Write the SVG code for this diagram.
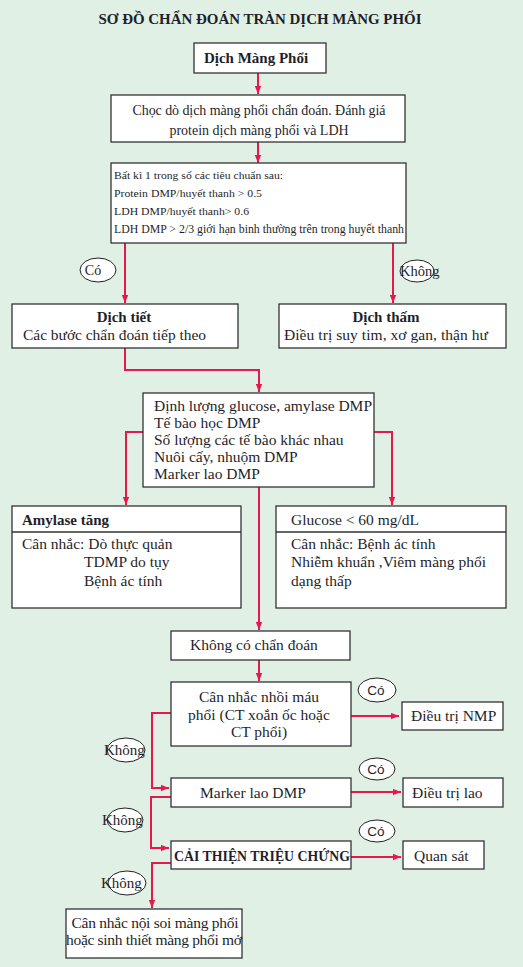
<svg xmlns="http://www.w3.org/2000/svg" width="523" height="967" viewBox="0 0 523 967">
<defs>
<style>
.bg{fill:#e0f0e5}
.box{fill:#fff;stroke:#333;stroke-width:1.3}
.ov{fill:#fff;stroke:#222;stroke-width:1}
.t{font-family:"Liberation Serif","Times New Roman",serif;fill:#1f1f2a}
.b{font-weight:bold}
.s{font-family:"Liberation Sans",Arial,sans-serif;fill:#1f1f2a}
.c{text-anchor:middle}
.ln{fill:none;stroke:#e5194e;stroke-width:2;marker-end:url(#ah)}
</style>
<marker id="ah" viewBox="0 0 10 8" refX="10" refY="4" markerWidth="8" markerHeight="7" markerUnits="userSpaceOnUse" orient="auto">
<path d="M0,0 L10,4 L0,8 z" fill="#e5194e"/>
</marker>
</defs>
<rect class="bg" x="0" y="0" width="523" height="967"/>
<text class="t b c" x="260" y="24" font-size="15" textLength="323" lengthAdjust="spacingAndGlyphs">SƠ ĐỒ CHẨN ĐOÁN TRÀN DỊCH MÀNG PHỔI</text>

<g id="connectors">
<path class="ln" d="M258,73 V94"/>
<path class="ln" d="M258,142 V163"/>
<path class="ln" d="M125,243 V303"/>
<path class="ln" d="M393,243 V303"/>
<path class="ln" d="M125,348 V370 H259 V392"/>
<path class="ln" d="M143,432 H126 V505"/>
<path class="ln" d="M374,432 H392 V505"/>
<path class="ln" d="M259,487 V630"/>
<path class="ln" d="M259,660 V681"/>
<path class="ln" d="M351,716 H399"/>
<path class="ln" d="M171,713 H152 V788 H169"/>
<path class="ln" d="M351,792 H401"/>
<path class="ln" d="M171,797 H151 V848 H169"/>
<path class="ln" d="M351,857 H401"/>
<path class="ln" d="M171,863 H152 V908"/>
</g>

<g id="n1">
<rect class="box" x="194" y="43" width="132" height="30"/>
<text class="t b c" x="256" y="63" font-size="15">Dịch Màng Phổi</text>
</g>
<g id="n2">
<rect class="box" x="111" y="95" width="294" height="47"/>
<text class="t c" x="259" y="115" font-size="14" textLength="253">Chọc dò dịch màng phổi chẩn đoán. Đánh giá</text>
<text class="t c" x="259" y="135" font-size="14">protein dịch màng phổi và LDH</text>
</g>
<g id="n3">
<rect class="box" x="111" y="163" width="295" height="80"/>
<text class="t" x="114" y="179" font-size="11" textLength="169" lengthAdjust="spacingAndGlyphs">Bất kì 1 trong số các tiêu chuẩn sau:</text>
<text class="t" x="114" y="197" font-size="11" textLength="148" lengthAdjust="spacingAndGlyphs">Protein DMP/huyết thanh &gt; 0.5</text>
<text class="t" x="114" y="215" font-size="11" textLength="135" lengthAdjust="spacingAndGlyphs">LDH DMP/huyết thanh&gt; 0.6</text>
<text class="t" x="114" y="233" font-size="12" textLength="290" lengthAdjust="spacingAndGlyphs">LDH DMP &gt; 2/3 giới hạn binh thường trên trong huyết thanh</text>
</g>
<g id="lbl-co1">
<ellipse class="ov" cx="98" cy="270" rx="18" ry="12"/>
<text class="t c" x="93" y="275" font-size="14">Có</text>
</g>
<g id="lbl-khong1">
<ellipse class="ov" cx="417" cy="271" rx="17" ry="11"/>
<text class="t" x="400" y="276" font-size="14.5">Không</text>
</g>
<g id="n4">
<rect class="box" x="12" y="304" width="226" height="44"/>
<text class="t b c" x="124" y="322" font-size="15">Dịch tiết</text>
<text class="t" x="23" y="340" font-size="15.5" textLength="183">Các bước chẩn đoán tiếp theo</text>
</g>
<g id="n5">
<rect class="box" x="279" y="304" width="227" height="44"/>
<text class="t b c" x="386" y="322" font-size="15">Dịch thấm</text>
<text class="t" x="284" y="340" font-size="15.5" textLength="204">Điều trị suy tim, xơ gan, thận hư</text>
</g>
<g id="n6">
<rect class="box" x="143" y="393" width="231" height="94"/>
<text class="t" x="154" y="411" font-size="15.5" textLength="218">Định lượng glucose, amylase DMP</text>
<text class="t" x="154" y="428" font-size="15.5">Tế bào học DMP</text>
<text class="t" x="154" y="445" font-size="15.5">Số lượng các tế bào khác nhau</text>
<text class="t" x="154" y="462" font-size="15.5">Nuôi cấy, nhuộm DMP</text>
<text class="t" x="154" y="479" font-size="15.5">Marker lao DMP</text>
</g>
<g id="n7">
<rect class="box" x="12" y="506" width="229" height="102"/>
<line x1="12" y1="532" x2="241" y2="532" stroke="#333" stroke-width="1.3"/>
<text class="t b" x="22" y="525" font-size="15">Amylase tăng</text>
<text class="t" x="22" y="549" font-size="15.5">Cân nhắc: Dò thực quản</text>
<text class="t" x="84" y="567" font-size="15.5">TDMP do tụy</text>
<text class="t" x="84" y="586" font-size="15.5">Bệnh ác tính</text>
</g>
<g id="n8">
<rect class="box" x="276" y="506" width="230" height="102"/>
<line x1="276" y1="532" x2="506" y2="532" stroke="#333" stroke-width="1.3"/>
<text class="t" x="291" y="525" font-size="15.5">Glucose &lt; 60 mg/dL</text>
<text class="t" x="291" y="549" font-size="15.5">Cân nhắc: Bệnh ác tính</text>
<text class="t" x="291" y="567" font-size="15.5">Nhiễm khuẩn ,Viêm màng phổi</text>
<text class="t" x="291" y="586" font-size="15.5">dạng thấp</text>
</g>
<g id="n9">
<rect class="box" x="171" y="631" width="179" height="29"/>
<text class="t" x="190" y="650" font-size="15.5">Không có chẩn đoán</text>
</g>
<g id="n10">
<rect class="box" x="171" y="682" width="180" height="64"/>
<text class="t c" x="259" y="702" font-size="15.5">Cân nhắc nhồi máu</text>
<text class="t c" x="259" y="720" font-size="15.5">phổi (CT xoắn ốc hoặc</text>
<text class="t c" x="259" y="737" font-size="15.5">CT phổi)</text>
</g>
<g id="lbl-co2">
<ellipse class="ov" cx="377" cy="690" rx="19" ry="12"/>
<text class="s c" x="376" y="695" font-size="13.5">Có</text>
</g>
<g id="n11">
<rect class="box" x="402" y="702" width="101" height="28"/>
<text class="t" x="411" y="721" font-size="15.5">Điều trị NMP</text>
</g>
<g id="lbl-khong2">
<ellipse class="ov" cx="126" cy="750" rx="19" ry="12"/>
<text class="t" x="104" y="755" font-size="15">Không</text>
</g>
<g id="n12">
<rect class="box" x="171" y="778" width="180" height="29"/>
<text class="t" x="200" y="798" font-size="15.5">Marker lao DMP</text>
</g>
<g id="lbl-co3">
<ellipse class="ov" cx="377" cy="769" rx="18" ry="11"/>
<text class="s c" x="376" y="774" font-size="13.5">Có</text>
</g>
<g id="n13">
<rect class="box" x="403" y="778" width="100" height="29"/>
<text class="t" x="412" y="798" font-size="15.5">Điều trị lao</text>
</g>
<g id="lbl-khong3">
<ellipse class="ov" cx="125" cy="820" rx="18" ry="12"/>
<text class="t" x="102" y="825" font-size="15">Không</text>
</g>
<g id="n14">
<rect class="box" x="171" y="841" width="180" height="28"/>
<text class="t b" x="174" y="861" font-size="14" textLength="176" lengthAdjust="spacingAndGlyphs">CẢI THIỆN TRIỆU CHỨNG</text>
</g>
<g id="lbl-co4">
<ellipse class="ov" cx="377" cy="831" rx="18" ry="11"/>
<text class="s c" x="376" y="836" font-size="13.5">Có</text>
</g>
<g id="n15">
<rect class="box" x="403" y="841" width="81" height="28"/>
<text class="t" x="414" y="861" font-size="15.5">Quan sát</text>
</g>
<g id="lbl-khong4">
<ellipse class="ov" cx="127" cy="883" rx="19" ry="12"/>
<text class="t" x="101" y="888" font-size="15">Không</text>
</g>
<g id="n16">
<rect class="box" x="66" y="909" width="176" height="49"/>
<text class="t c" x="155" y="928" font-size="15.5" textLength="167">Cân nhắc nội soi màng phổi</text>
<text class="t c" x="154" y="945" font-size="15.5" textLength="176">hoặc sinh thiết màng phổi mở</text>
</g>
</svg>
